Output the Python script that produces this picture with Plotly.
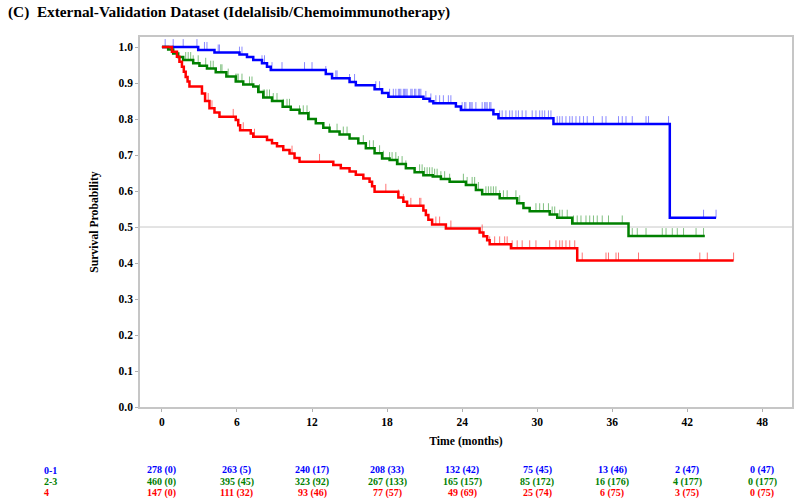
import numpy as np
import plotly.graph_objects as go

# ---------------- data ----------------
groups = ["0-1", "2-3", "4"]

blue_t = [0, 2.9, 4.2, 6.2, 6.8, 7.3, 8.0, 8.4, 8.7, 13.1, 13.6, 15.0, 15.5, 17.0, 17.6, 18.1,
          20.9, 21.4, 21.7, 23.5, 23.9, 26.5, 26.9, 31.3, 40.6]
blue_s = [1.0, 0.992, 0.985, 0.979, 0.972, 0.964, 0.955, 0.945, 0.936, 0.925, 0.913, 0.903, 0.894,
          0.883, 0.872, 0.862, 0.856, 0.849, 0.844, 0.835, 0.825, 0.813, 0.802, 0.786, 0.526]
blue_end = 44.3
blue_cens = [0.26, 0.9, 1.7, 2.8, 3.4, 3.6, 4.5, 4.6, 6.2, 6.4, 8.0, 8.2, 8.8, 9.6, 11.4, 12.0,
             13.1, 13.9, 14.0, 15.0, 15.4, 17.1, 17.4, 18.2, 18.5, 18.7, 18.9, 19.0, 19.1, 19.3,
             19.4, 19.5, 19.6, 19.9, 20.0, 20.2, 20.3, 20.5, 20.6, 20.7, 21.1, 21.5, 21.9, 22.2,
             22.5, 22.9, 23.1, 24.0, 24.2, 24.3, 24.6, 24.7, 24.8, 25.1, 25.6, 25.8, 25.9, 26.0,
             26.2, 26.3, 27.0, 27.2, 27.5, 27.8, 28.0, 28.3, 28.5, 28.8, 29.1, 29.6, 29.9, 30.2,
             30.4, 30.6, 30.9, 31.1, 31.6, 31.8, 32.0, 32.3, 32.6, 32.8, 33.1, 33.4, 33.7, 34.0,
             34.5, 35.2, 35.5, 36.5, 36.8, 37.1, 37.6, 38.7, 38.9, 40.5, 43.3, 44.3]

green_t = [0, 0.5, 0.9, 1.3, 1.7, 2.5, 3.0, 3.6, 4.3, 5.15, 5.9, 6.5, 7.3, 7.7, 8.1, 8.8, 9.65,
           10.3, 11.0, 11.7, 12.3, 12.9, 13.4, 14.2, 15.0, 15.7, 16.3, 17.0, 17.6, 18.2, 18.8,
           19.5, 20.2, 20.9, 21.65, 22.3, 23.0, 24.3, 25.1, 25.6, 27.0, 28.4, 28.9, 29.4, 31.0,
           31.6, 32.8, 37.3]
green_s = [1.0, 0.993, 0.982, 0.972, 0.964, 0.955, 0.948, 0.940, 0.930, 0.918, 0.904, 0.896,
           0.890, 0.875, 0.860, 0.850, 0.834, 0.826, 0.816, 0.800, 0.788, 0.776, 0.765, 0.757,
           0.746, 0.733, 0.719, 0.705, 0.690, 0.686, 0.675, 0.663, 0.652, 0.644, 0.640, 0.633,
           0.626, 0.617, 0.603, 0.591, 0.580, 0.566, 0.553, 0.544, 0.535, 0.526, 0.510, 0.475]
green_end = 43.4
green_cens = [0.9, 1.9, 2.1, 2.3, 2.5, 2.9, 3.5, 3.9, 4.1, 4.7, 4.8, 5.3, 5.9, 6.0, 6.1, 6.4,
              7.0, 7.2, 7.8, 8.1, 8.2, 8.4, 8.6, 8.9, 9.2, 9.7, 10.0, 10.2, 11.0, 11.3, 11.6,
              11.8, 13.4, 14.0, 14.5, 14.8, 16.1, 16.6, 16.9, 17.4, 17.7, 18.2, 18.4, 18.7,
              18.9, 19.2, 19.5, 20.6, 20.8, 21.0, 21.2, 21.4, 21.6, 21.8, 22.0, 22.3, 22.6,
              23.0, 24.1, 24.4, 24.8, 25.0, 25.3, 25.9, 26.1, 26.3, 26.5, 26.7, 27.0, 27.3,
              27.6, 28.3, 28.6, 29.9, 30.2, 30.5, 30.9, 31.2, 31.4, 31.8, 32.0, 32.4, 32.9,
              33.2, 33.5, 33.9, 34.2, 34.5, 34.8, 35.2, 35.7, 36.8, 37.6, 38.0, 38.7, 40.0,
              40.3, 40.8, 41.2, 41.7, 42.7, 43.3]

red_t = [0, 0.8, 1.2, 1.4, 1.6, 1.75, 1.9, 2.05, 2.2, 3.2, 3.45, 3.8, 4.2, 4.6, 5.9, 6.1, 6.25,
         7.1, 7.3, 8.4, 8.8, 9.2, 9.7, 10.2, 10.6, 11.0, 13.7, 14.3, 15.0, 15.5, 16.1, 16.6,
         16.8, 17.0, 18.9, 19.3, 19.6, 20.9, 21.1, 21.3, 21.6, 22.7, 25.4, 25.7, 26.0, 26.2,
         27.9, 33.2]
red_s = [1.0, 0.987, 0.973, 0.959, 0.945, 0.931, 0.917, 0.904, 0.890, 0.871, 0.850, 0.830,
         0.818, 0.806, 0.797, 0.783, 0.769, 0.760, 0.751, 0.742, 0.733, 0.724, 0.714, 0.704,
         0.692, 0.681, 0.672, 0.663, 0.654, 0.645, 0.635, 0.626, 0.613, 0.598, 0.582, 0.570,
         0.559, 0.546, 0.533, 0.520, 0.507, 0.496, 0.485, 0.474, 0.463, 0.452, 0.441, 0.407]
red_end = 45.7
red_cens = [3.7, 4.0, 5.7, 6.5, 7.4, 10.4, 12.6, 17.9, 18.9, 19.3, 19.9, 20.6, 20.7, 21.9,
            22.2, 23.1, 25.6, 26.2, 26.6, 27.0, 27.4, 27.6, 28.0, 28.4, 28.8, 29.4, 29.9, 31.0,
            31.5, 31.8, 32.0, 32.3, 32.6, 33.0, 33.6, 35.5, 35.7, 36.3, 36.5, 38.1, 43.0, 43.6,
            45.7]

risk_times = [0, 6, 12, 18, 24, 30, 36, 42, 48]
risk_blue = [278, 263, 240, 208, 132, 75, 13, 2, 0]
events_blue = [0, 5, 17, 33, 42, 45, 46, 47, 47]
risk_green = [460, 395, 323, 267, 165, 85, 16, 4, 0]
events_green = [0, 45, 92, 133, 157, 172, 176, 177, 177]
risk_red = [147, 111, 93, 77, 49, 25, 6, 3, 0]
events_red = [0, 32, 46, 57, 69, 74, 75, 75, 75]

xticks = [0, 6, 12, 18, 24, 30, 36, 42, 48]
yticks = [0.0, 0.1, 0.2, 0.3, 0.4, 0.5, 0.6, 0.7, 0.8, 0.9, 1.0]

# ---------------- styling ----------------
FONT = "Liberation Serif"
BLUE, GREEN, RED = "#0000FF", "#008000", "#FF0000"
TICK_BLUE, TICK_GREEN, TICK_RED = "rgba(60,60,255,0.6)", "rgba(0,128,0,0.5)", "rgba(255,0,0,0.55)"
CENS_LEN = 0.022
FRAME = "#c6c6c6"

fig = go.Figure()


def step_at(times, surv, t):
    times = np.asarray(times)
    surv = np.asarray(surv)
    idx = np.searchsorted(times, np.asarray(t), side="right") - 1
    return surv[idx]


series = [
    (blue_t, blue_s, blue_end, blue_cens, BLUE, TICK_BLUE),
    (green_t, green_s, green_end, green_cens, GREEN, TICK_GREEN),
    (red_t, red_s, red_end, red_cens, RED, TICK_RED),
]

for (t, s, end, cens, col, tcol), name in zip(series, groups):
    cy = step_at(t, s, cens)
    fig.add_trace(go.Scatter(
        x=cens, y=cy, mode="markers",
        marker=dict(size=1, color="rgba(0,0,0,0)"),
        error_y=dict(type="data", symmetric=False, array=[CENS_LEN] * len(cens),
                     arrayminus=[0] * len(cens), width=0, thickness=1, color=tcol),
        hoverinfo="skip", showlegend=False))

for (t, s, end, cens, col, tcol), name in zip(series, groups):
    fig.add_trace(go.Scatter(
        x=list(t) + [end], y=list(s) + [s[-1]], mode="lines",
        line=dict(color=col, width=2.5, shape="hv"), name=name, showlegend=False))

# reference line at 0.5
fig.add_shape(type="line", xref="paper", x0=0, x1=1, yref="y", y0=0.5, y1=0.5,
              line=dict(color="#c8c8c8", width=1), layer="below")

# risk table
rows = [(groups[0], risk_blue, events_blue, BLUE),
        (groups[1], risk_green, events_green, GREEN),
        (groups[2], risk_red, events_red, RED)]
row_y = [-0.171, -0.202, -0.232]
for (lab, risk, ev, col), yy in zip(rows, row_y):
    fig.add_annotation(text=lab, xref="paper", x=-0.15, xanchor="left", yref="paper", y=yy,
                       yanchor="middle", showarrow=False,
                       font=dict(family=FONT, size=10, color=col, weight="bold"))
    for tt, r, e in zip(risk_times, risk, ev):
        fig.add_annotation(text=f"{r} ({e})", xref="x", x=tt, xanchor="center", yref="paper",
                           y=yy, yanchor="middle", showarrow=False,
                           font=dict(family=FONT, size=10, color=col, weight="bold"))

# y-axis title
fig.add_annotation(text="Survival Probability", xref="paper", x=-0.071, xanchor="center",
                   yref="paper", y=0.5, yanchor="middle", textangle=-90, showarrow=False,
                   font=dict(family=FONT, size=11.7, color="black", weight="bold"))

fig.update_layout(
    width=800, height=502,
    margin=dict(l=140, r=6, t=37, b=95),
    paper_bgcolor="white", plot_bgcolor="white",
    showlegend=False,
    title=dict(text="(C)  External-Validation Dataset (Idelalisib/Chemoimmunotherapy)",
               x=0.01, xanchor="left", y=0.977, yanchor="middle",
               font=dict(family=FONT, size=15.3, color="black", weight="bold")),
    xaxis=dict(range=[-1.753, 50.37], tickvals=xticks, ticks="outside", ticklen=3,
               tickcolor="#b0b0b0", showgrid=False, zeroline=False, showline=True,
               linecolor=FRAME, linewidth=1.5, mirror=True,
               tickfont=dict(family=FONT, size=11.5, color="black", weight="bold"),
               title=dict(text="Time (months)", standoff=10,
                          font=dict(family=FONT, size=11.7, color="black", weight="bold"))),
    yaxis=dict(range=[0, 1.0278], tickvals=yticks, tickformat=".1f", ticks="outside",
               ticklen=3, tickcolor="#b0b0b0", showgrid=False, zeroline=False, showline=True,
               linecolor=FRAME, linewidth=1.5, mirror=True,
               tickfont=dict(family=FONT, size=11.5, color="black", weight="bold")),
)

fig.write_html("out.html", config={"displayModeBar": False},
               post_script="document.body.style.margin='0';")
